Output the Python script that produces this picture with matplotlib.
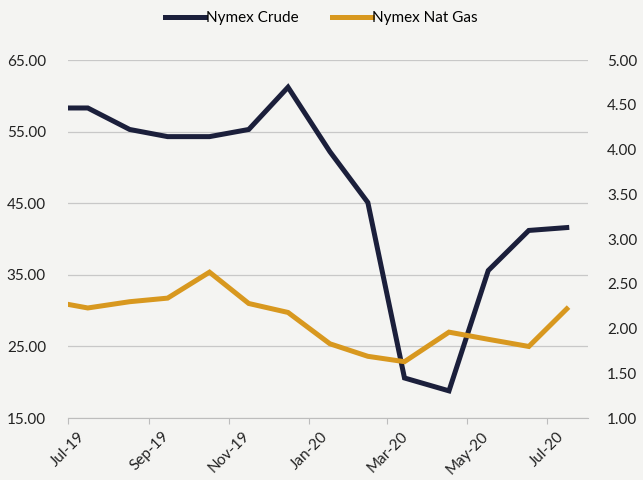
import numpy as np
import pandas as pd
import matplotlib
matplotlib.use('Agg')
import matplotlib.pyplot as plt
import matplotlib.dates as mdates

# values
dates = ['2019-07-01', '2019-07-16', '2019-08-17', '2019-09-15', '2019-10-17',
         '2019-11-16', '2019-12-16', '2020-01-17', '2020-02-15', '2020-03-14',
         '2020-04-17', '2020-05-17', '2020-06-17', '2020-07-16']
crude = [58.3, 58.3, 55.3, 54.3, 54.3, 55.3, 61.2, 52.2, 45.1, 20.6,
         18.8, 35.6, 41.2, 41.6]
nat_gas = [2.27, 2.23, 2.30, 2.34, 2.63, 2.28, 2.18, 1.83, 1.69, 1.63,
           1.96, 1.88, 1.80, 2.22]

left_ticks = [15, 25, 35, 45, 55, 65]
right_ticks = [1.0, 1.5, 2.0, 2.5, 3.0, 3.5, 4.0, 4.5, 5.0]

crude_color = '#1b1f3b'
gas_color = '#d8981f'
bg = '#f4f4f2'

plt.rcParams['font.family'] = ['Lato', 'DejaVu Sans']

x = pd.to_datetime(dates)

fig = plt.figure(figsize=(6.43, 4.8), dpi=100, facecolor=bg)
ax = fig.add_axes([0.106, 0.129, 0.808, 0.746], facecolor=bg)
ax2 = ax.twinx()

l1, = ax.plot(x, crude, color=crude_color, lw=3.6, solid_joinstyle='miter')
l2, = ax2.plot(x, nat_gas, color=gas_color, lw=3.6, solid_joinstyle='miter')

ax.set_ylim(15, 65)
ax2.set_ylim(1, 5)
ax.set_yticks(left_ticks)
ax2.set_yticks(right_ticks)
ax.set_yticklabels(['{:.2f}'.format(v) for v in left_ticks])
ax2.set_yticklabels(['{:.2f}'.format(v) for v in right_ticks])

ax.set_xlim(pd.Timestamp('2019-07-01'), pd.Timestamp('2020-08-01'))
ax.xaxis.set_major_locator(mdates.MonthLocator(bymonth=[1, 3, 5, 7, 9, 11]))
ax.xaxis.set_major_formatter(mdates.DateFormatter('%b-%y'))
plt.setp(ax.get_xticklabels(), rotation=45, ha='center', va='top')

ax.grid(axis='y', color='#c8c8c8', lw=0.9)
ax.set_axisbelow(True)
for a in (ax, ax2):
    for s in ['top', 'left', 'right', 'bottom']:
        a.spines[s].set_visible(False)
ax.spines['bottom'].set_visible(True)
ax.spines['bottom'].set_color('#bdbdbd')

ax.tick_params(axis='y', length=0, pad=16, labelsize=11, labelcolor='#222222')
ax2.tick_params(axis='y', length=0, pad=14, labelsize=11, labelcolor='#222222')
ax.tick_params(axis='x', length=4, color='#bdbdbd', pad=4, labelsize=11, labelcolor='#222222')

fig.legend([l1, l2], ['Nymex Crude', 'Nymex Nat Gas'], loc='upper center',
           bbox_to_anchor=(0.5, 1.005), ncol=2, frameon=False, fontsize=11,
           handlelength=2.6, handletextpad=0.05, columnspacing=2.2)

plt.savefig('out.png', dpi=100, facecolor=bg)
plt.close()
